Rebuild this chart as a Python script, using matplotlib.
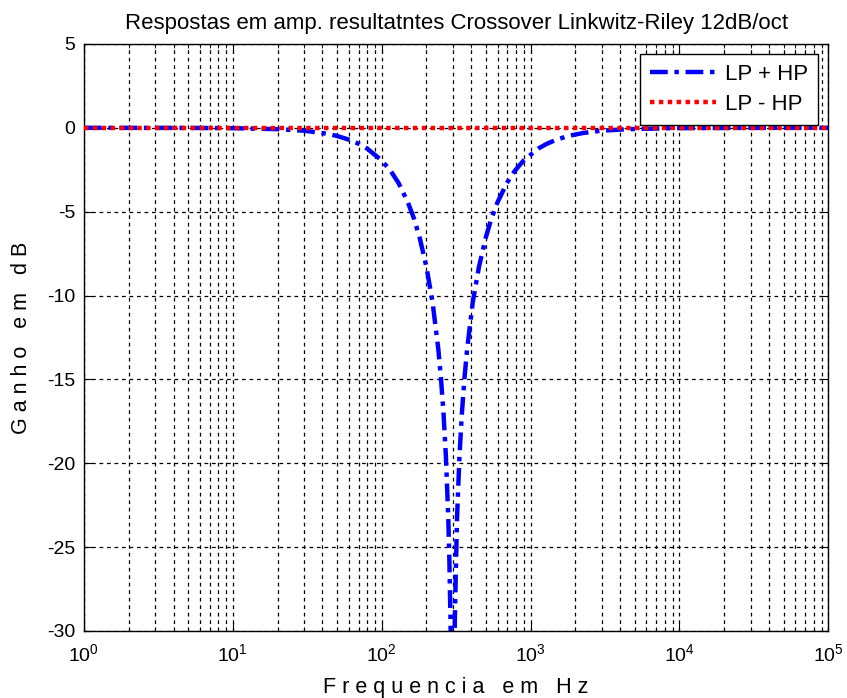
import matplotlib
matplotlib.use("Agg")
import matplotlib.pyplot as plt
from matplotlib.ticker import LogLocator, MultipleLocator, NullFormatter

plt.rcParams["font.family"] = ["Liberation Sans", "DejaVu Sans"]
plt.rcParams["mathtext.fontset"] = "custom"
plt.rcParams["mathtext.rm"] = "Liberation Sans"
plt.rcParams["mathtext.it"] = "Liberation Sans"
plt.rcParams["axes.unicode_minus"] = False

# ── Data (Hz, dB) ─────────────────────────────────────────────
freq_sum = [1, 2, 5, 10, 20, 30, 40, 50, 60, 70, 80, 100, 115, 130, 150, 165,
            180, 200, 220, 240, 250, 260, 270, 280, 285, 290, 294, 298, 302,
            306, 310, 316, 321, 333, 346, 360, 375, 409, 450, 500, 545, 600,
            692, 783, 900, 1125, 1286, 1500, 1800, 2250, 3000, 4500, 9000,
            30000, 100000]
gain_sum = [0.0, -0.001, -0.005, -0.02, -0.08, -0.17, -0.31, -0.48, -0.70,
            -0.95, -1.24, -1.94, -2.57, -3.3, -4.44, -5.42, -6.55, -8.3,
            -10.44, -13.17, -14.9, -16.95, -19.58, -23.2, -25.8, -29.4, -34.0,
            -45.0, -45.0, -34.0, -29.4, -25.8, -23.2, -19.6, -17.0, -14.9,
            -13.2, -10.4, -8.3, -6.55, -5.42, -4.44, -3.3, -2.57, -1.94,
            -1.24, -0.95, -0.70, -0.48, -0.31, -0.17, -0.08, -0.02, -0.002,
            0.0]

freq_diff = [1, 100000]
gain_diff = [0.0, 0.0]

# ── Plot ──────────────────────────────────────────────────────
fig = plt.figure(figsize=(8.47, 6.98), dpi=100)
ax = fig.add_axes([0.099, 0.096, 0.879, 0.841])

ax.semilogx(freq_sum, gain_sum, color="#0000ff", lw=3.2,
            linestyle=(0, (4, 1.5, 1, 1.5)), label="LP + HP", zorder=3)
ax.semilogx(freq_diff, gain_diff, color="#ff0000", lw=3.2,
            linestyle=(0, (1, 1)), label="LP - HP", zorder=4)

ax.set_xlim(1, 1e5)
ax.set_ylim(-30, 5)
ax.yaxis.set_major_locator(MultipleLocator(5))
ax.xaxis.set_major_locator(LogLocator(base=10, numticks=10))
ax.xaxis.set_minor_locator(LogLocator(base=10, subs=range(2, 10), numticks=20))
ax.xaxis.set_minor_formatter(NullFormatter())

ax.grid(True, which="major", color="black", linestyle=(0, (3, 3)), lw=0.9)
ax.grid(True, which="minor", axis="x", color="black", linestyle=(0, (3, 3)), lw=0.9)

ax.tick_params(which="both", direction="in", top=True, right=True,
               labelsize=14)
ax.tick_params(which="major", length=6)
ax.tick_params(which="minor", length=3)
ax.tick_params(axis="x", which="major", pad=9)
ax.tick_params(axis="y", which="major", pad=6)
for sp in ax.spines.values():
    sp.set_linewidth(1.0)

ax.set_title("Respostas em amp. resultatntes Crossover Linkwitz-Riley 12dB/oct",
             fontsize=16, pad=11)
ax.set_xlabel("F r e q u e n c i a   e m   H z", fontsize=15.5, labelpad=8)
ax.set_ylabel("G a n h o   e m   d B", fontsize=15.5, labelpad=11)

leg = ax.legend(loc="upper right", fontsize=16, fancybox=False,
                framealpha=1, edgecolor="black", borderaxespad=0.45,
                handlelength=3.0, handletextpad=0.4,
                labelspacing=0.4, borderpad=0.45)
leg.get_frame().set_linewidth(1.0)

fig.savefig("out.png", dpi=100)
